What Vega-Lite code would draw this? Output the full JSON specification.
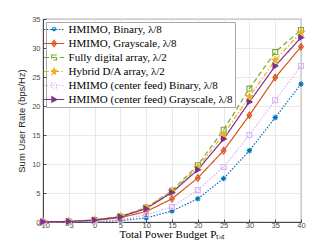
{
  "$schema": "https://vega.github.io/schema/vega-lite/v6.json",
  "width": 258,
  "height": 203,
  "autosize": {"type": "none"},
  "padding": {"left": 43, "top": 19, "right": 31, "bottom": 27},
  "background": "white",
  "config": {
    "view": {"stroke": "#262626", "strokeWidth": 0.8},
    "axis": {
      "labelFont": "Liberation Sans",
      "labelFontSize": 7.5,
      "labelColor": "#4d4d4d",
      "labelFlush": false,
      "labelOverlap": false,
      "tickColor": "#262626",
      "domainColor": "#262626",
      "domainWidth": 0.8,
      "gridColor": "#e3e3e3",
      "gridWidth": 0.8,
      "tickSize": -3,
      "tickWidth": 0.8
    }
  },
  "data": {
    "values": [
      {"s": "HMIMO, Binary, λ/8", "x": -10, "y": 0.01},
      {"s": "HMIMO, Binary, λ/8", "x": -5, "y": 0.03},
      {"s": "HMIMO, Binary, λ/8", "x": 0, "y": 0.08},
      {"s": "HMIMO, Binary, λ/8", "x": 5, "y": 0.25},
      {"s": "HMIMO, Binary, λ/8", "x": 10, "y": 0.7},
      {"s": "HMIMO, Binary, λ/8", "x": 15, "y": 1.9},
      {"s": "HMIMO, Binary, λ/8", "x": 20, "y": 4.0},
      {"s": "HMIMO, Binary, λ/8", "x": 25, "y": 7.5},
      {"s": "HMIMO, Binary, λ/8", "x": 30, "y": 12.3},
      {"s": "HMIMO, Binary, λ/8", "x": 35, "y": 18.0},
      {"s": "HMIMO, Binary, λ/8", "x": 40, "y": 23.8},
      {"s": "HMIMO, Grayscale, λ/8", "x": -10, "y": 0.02},
      {"s": "HMIMO, Grayscale, λ/8", "x": -5, "y": 0.08},
      {"s": "HMIMO, Grayscale, λ/8", "x": 0, "y": 0.25},
      {"s": "HMIMO, Grayscale, λ/8", "x": 5, "y": 0.75},
      {"s": "HMIMO, Grayscale, λ/8", "x": 10, "y": 1.8},
      {"s": "HMIMO, Grayscale, λ/8", "x": 15, "y": 4.0},
      {"s": "HMIMO, Grayscale, λ/8", "x": 20, "y": 7.6},
      {"s": "HMIMO, Grayscale, λ/8", "x": 25, "y": 12.3},
      {"s": "HMIMO, Grayscale, λ/8", "x": 30, "y": 18.4},
      {"s": "HMIMO, Grayscale, λ/8", "x": 35, "y": 24.9},
      {"s": "HMIMO, Grayscale, λ/8", "x": 40, "y": 30.2},
      {"s": "Fully digital array, λ/2", "x": -10, "y": 0.03},
      {"s": "Fully digital array, λ/2", "x": -5, "y": 0.1},
      {"s": "Fully digital array, λ/2", "x": 0, "y": 0.35},
      {"s": "Fully digital array, λ/2", "x": 5, "y": 0.95},
      {"s": "Fully digital array, λ/2", "x": 10, "y": 2.5},
      {"s": "Fully digital array, λ/2", "x": 15, "y": 5.4},
      {"s": "Fully digital array, λ/2", "x": 20, "y": 9.8},
      {"s": "Fully digital array, λ/2", "x": 25, "y": 15.9},
      {"s": "Fully digital array, λ/2", "x": 30, "y": 23.0},
      {"s": "Fully digital array, λ/2", "x": 35, "y": 29.3},
      {"s": "Fully digital array, λ/2", "x": 40, "y": 33.1},
      {"s": "Hybrid D/A array, λ/2", "x": -10, "y": 0.03},
      {"s": "Hybrid D/A array, λ/2", "x": -5, "y": 0.1},
      {"s": "Hybrid D/A array, λ/2", "x": 0, "y": 0.35},
      {"s": "Hybrid D/A array, λ/2", "x": 5, "y": 0.95},
      {"s": "Hybrid D/A array, λ/2", "x": 10, "y": 2.45},
      {"s": "Hybrid D/A array, λ/2", "x": 15, "y": 5.3},
      {"s": "Hybrid D/A array, λ/2", "x": 20, "y": 9.4},
      {"s": "Hybrid D/A array, λ/2", "x": 25, "y": 15.1},
      {"s": "Hybrid D/A array, λ/2", "x": 30, "y": 21.6},
      {"s": "Hybrid D/A array, λ/2", "x": 35, "y": 27.9},
      {"s": "Hybrid D/A array, λ/2", "x": 40, "y": 32.7},
      {"s": "HMIMO (center feed) Binary, λ/8", "x": -10, "y": 0.01},
      {"s": "HMIMO (center feed) Binary, λ/8", "x": -5, "y": 0.05},
      {"s": "HMIMO (center feed) Binary, λ/8", "x": 0, "y": 0.15},
      {"s": "HMIMO (center feed) Binary, λ/8", "x": 5, "y": 0.4},
      {"s": "HMIMO (center feed) Binary, λ/8", "x": 10, "y": 1.2},
      {"s": "HMIMO (center feed) Binary, λ/8", "x": 15, "y": 2.6},
      {"s": "HMIMO (center feed) Binary, λ/8", "x": 20, "y": 5.5},
      {"s": "HMIMO (center feed) Binary, λ/8", "x": 25, "y": 9.5},
      {"s": "HMIMO (center feed) Binary, λ/8", "x": 30, "y": 15.0},
      {"s": "HMIMO (center feed) Binary, λ/8", "x": 35, "y": 21.0},
      {"s": "HMIMO (center feed) Binary, λ/8", "x": 40, "y": 26.9},
      {"s": "HMIMO (center feed) Grayscale, λ/8", "x": -10, "y": 0.03},
      {"s": "HMIMO (center feed) Grayscale, λ/8", "x": -5, "y": 0.1},
      {"s": "HMIMO (center feed) Grayscale, λ/8", "x": 0, "y": 0.33},
      {"s": "HMIMO (center feed) Grayscale, λ/8", "x": 5, "y": 0.9},
      {"s": "HMIMO (center feed) Grayscale, λ/8", "x": 10, "y": 2.3},
      {"s": "HMIMO (center feed) Grayscale, λ/8", "x": 15, "y": 5.1},
      {"s": "HMIMO (center feed) Grayscale, λ/8", "x": 20, "y": 9.0},
      {"s": "HMIMO (center feed) Grayscale, λ/8", "x": 25, "y": 14.3},
      {"s": "HMIMO (center feed) Grayscale, λ/8", "x": 30, "y": 20.7},
      {"s": "HMIMO (center feed) Grayscale, λ/8", "x": 35, "y": 26.9},
      {"s": "HMIMO (center feed) Grayscale, λ/8", "x": 40, "y": 31.8}
    ]
  },
  "encoding": {
    "x": {
      "field": "x", "type": "quantitative",
      "scale": {"domain": [-10, 40], "nice": false, "zero": false},
      "axis": {
        "values": [-10, -5, 0, 5, 10, 15, 20, 25, 30, 35, 40],
        "title": "Total Power Budget Pₜₒₜ",
        "titleFont": "Liberation Serif",
        "titleFontSize": 11,
        "titleFontWeight": "normal",
        "titleColor": "#000000",
        "titlePadding": 0,
        "labelPadding": 2
      }
    },
    "y": {
      "field": "y", "type": "quantitative",
      "scale": {"domain": [0, 35], "nice": false},
      "axis": {
        "values": [0, 5, 10, 15, 20, 25, 30, 35],
        "title": "Sum User Rate (bps/Hz)",
        "titleFont": "Liberation Sans",
        "titleFontSize": 9.5,
        "titleFontWeight": "normal",
        "titleColor": "#262626",
        "titlePadding": 5,
        "labelPadding": 6
      }
    },
    "color": {
      "field": "s", "type": "nominal",
      "scale": {
        "domain": ["HMIMO, Binary, λ/8", "HMIMO, Grayscale, λ/8", "Fully digital array, λ/2", "Hybrid D/A array, λ/2", "HMIMO (center feed) Binary, λ/8", "HMIMO (center feed) Grayscale, λ/8"],
        "range": ["#0072BD", "#D95319", "#77AC30", "#EDB120", "#D9B3F5", "#7E2F8E"]
      },
      "legend": {
        "title": null,
        "orient": "top-left",
        "offset": 3,
        "padding": 2,
        "fillColor": "white",
        "strokeColor": "#a8a8a8",
        "labelFont": "Liberation Serif",
        "labelFontSize": 11,
        "labelColor": "#000000",
        "labelLimit": 300,
        "labelOffset": 9,
        "symbolOffset": 0.6,
        "rowPadding": 2,
        "symbolSize": 30,
        "symbolStrokeWidth": 1.1,
        "symbolType": {"expr": "['M-3.7,0H3.7M-1,0H1M0,-1V1M-0.7,-0.7L0.7,0.7M0.7,-0.7L-0.7,0.7','M-3.7,0H3.7M0,-1.2L0.85,0L0,1.2L-0.85,0ZM0,-0.3L0.25,0L0,0.3L-0.25,0Z','M-3.7,0H3.7M-0.9,-0.9H0.9V0.9H-0.9Z','M-3.7,0H3.7M0,-1.3L0.31,-0.42L1.24,-0.4L0.49,0.16L0.76,1.05L0,0.52L-0.76,1.05L-0.49,0.16L-1.24,-0.4L-0.31,-0.42Z','M-3.7,0H3.7M-0.9,-0.9H0.9V0.9H-0.9Z','M-3.7,0H3.7M-0.8,-1L1,0L-0.8,1Z'][indexof(['HMIMO, Binary, λ/8','HMIMO, Grayscale, λ/8','Fully digital array, λ/2','Hybrid D/A array, λ/2','HMIMO (center feed) Binary, λ/8','HMIMO (center feed) Grayscale, λ/8'], datum.value)]"},
        "symbolDash": {"expr": "[[1.5,1.5],[1,0],[5,3],[5,2,1.5,2],[1.5,1.5],[1,0]][indexof(['HMIMO, Binary, λ/8','HMIMO, Grayscale, λ/8','Fully digital array, λ/2','Hybrid D/A array, λ/2','HMIMO (center feed) Binary, λ/8','HMIMO (center feed) Grayscale, λ/8'], datum.value)]"},
        "symbolFillColor": {"expr": "['#0072BD','transparent','transparent','#EDB120','transparent','#7E2F8E'][indexof(['HMIMO, Binary, λ/8','HMIMO, Grayscale, λ/8','Fully digital array, λ/2','Hybrid D/A array, λ/2','HMIMO (center feed) Binary, λ/8','HMIMO (center feed) Grayscale, λ/8'], datum.value)]"}
      }
    }
  },
  "layer": [
    {
      "mark": {"type": "line", "strokeWidth": 1.2},
      "encoding": {
        "strokeDash": {
          "field": "s", "type": "nominal", "legend": null,
          "scale": {
            "domain": ["HMIMO, Binary, λ/8", "HMIMO, Grayscale, λ/8", "Fully digital array, λ/2", "Hybrid D/A array, λ/2", "HMIMO (center feed) Binary, λ/8", "HMIMO (center feed) Grayscale, λ/8"],
            "range": [[1.5, 1.5], [1, 0], [5, 3], [5, 2, 1.5, 2], [1.5, 1.5], [1, 0]]
          }
        }
      }
    },
    {
      "mark": {"type": "point", "filled": false, "size": 30, "strokeWidth": 1.1, "opacity": 1},
      "encoding": {
        "fill": {
          "field": "s", "type": "nominal", "legend": null,
          "scale": {
            "domain": ["HMIMO, Binary, λ/8", "HMIMO, Grayscale, λ/8", "Fully digital array, λ/2", "Hybrid D/A array, λ/2", "HMIMO (center feed) Binary, λ/8", "HMIMO (center feed) Grayscale, λ/8"],
            "range": ["#0072BD", "transparent", "transparent", "#EDB120", "transparent", "#7E2F8E"]
          }
        },
        "shape": {
          "field": "s", "type": "nominal", "legend": null,
          "scale": {
            "domain": ["HMIMO, Binary, λ/8", "HMIMO, Grayscale, λ/8", "Fully digital array, λ/2", "Hybrid D/A array, λ/2", "HMIMO (center feed) Binary, λ/8", "HMIMO (center feed) Grayscale, λ/8", "zz"],
            "range": ["M-1,0H1M0,-1V1M-0.7,-0.7L0.7,0.7M0.7,-0.7L-0.7,0.7", "M0,-1.2L0.85,0L0,1.2L-0.85,0ZM0,-0.3L0.25,0L0,0.3L-0.25,0Z", "M-0.9,-0.9H0.9V0.9H-0.9Z", "M0,-1.3L0.31,-0.42L1.24,-0.4L0.49,0.16L0.76,1.05L0,0.52L-0.76,1.05L-0.49,0.16L-1.24,-0.4L-0.31,-0.42Z", "M-0.9,-0.9H0.9V0.9H-0.9Z", "M-0.8,-1L1,0L-0.8,1Z", "circle"]
          }
        }
      }
    }
  ]
}
